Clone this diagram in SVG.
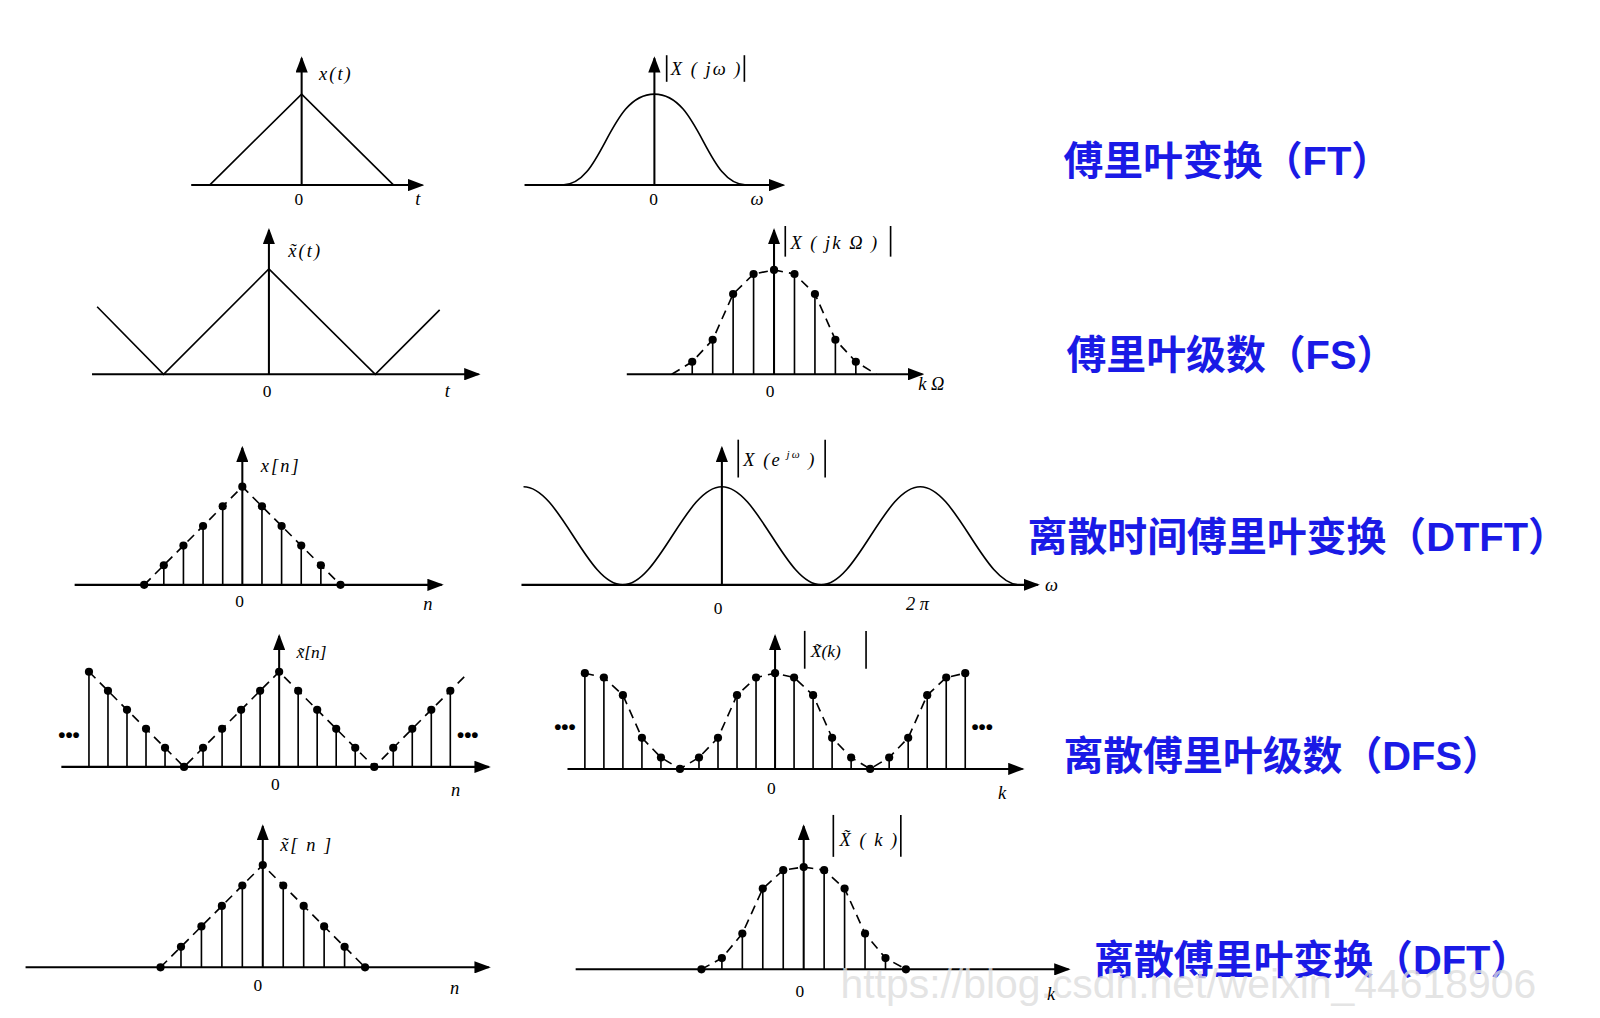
<svg xmlns="http://www.w3.org/2000/svg" width="1600" height="1018" viewBox="0 0 1600 1018">
<style>
.ax{stroke:#000;stroke-width:2;fill:none;marker-end:url(#ar)}
.ln{stroke:#000;stroke-width:1.6;fill:none}
.st{stroke:#000;stroke-width:1.6}
.ds{stroke:#000;stroke-width:1.6;fill:none;stroke-dasharray:9,6}
.dt{fill:#000}
.lb{font-family:"Liberation Serif",serif;font-style:italic;font-size:18px;fill:#000}
.nm{font-family:"Liberation Serif",serif;font-size:17px;fill:#000}
.tt{font-family:"Liberation Sans","Noto Sans CJK SC",sans-serif;font-weight:bold;font-size:39px;fill:#1a1ae6}
.el{font-family:"Liberation Sans",sans-serif;font-weight:bold;font-size:20px;fill:#000}
</style>
<defs>
<marker id="ar" markerUnits="userSpaceOnUse" markerWidth="16" markerHeight="12" refX="14" refY="6" orient="auto"><path d="M0,0 L16,6 L0,12 z" fill="#000"/></marker>
</defs>
<rect width="1600" height="1018" fill="#fff"/>
<g transform="scale(1.0225)">
<g id="ft-time">
<line class="ax" x1="187" y1="181" x2="413" y2="181"/><line class="ax" x1="295" y1="181" x2="295" y2="57"/>
<polyline class="ln" points="205,181 295,92 385,181"/>
<text class="lb" x="312" y="78" letter-spacing="2">x(t)</text><text class="nm" x="288" y="200">0</text><text class="lb" x="406" y="200">t</text>
</g>
<g id="ft-freq">
<line class="ax" x1="513" y1="181" x2="766" y2="181"/><line class="ax" x1="640" y1="181" x2="640" y2="57"/>
<path class="ln" d="M550,181 C590,181 595,92 640,92 C685,92 690,181 730,181"/>
<line class="st" x1="652" y1="54" x2="652" y2="80"/><line class="st" x1="728" y1="54" x2="728" y2="80"/>
<text class="lb" x="656" y="73" letter-spacing="2">X ( jω )</text><text class="nm" x="635" y="200">0</text><text class="lb" x="734" y="200">ω</text>
</g>
<g id="fs-time">
<line class="ax" x1="90" y1="366" x2="468" y2="366"/><line class="ax" x1="263" y1="366" x2="263" y2="225"/>
<polyline class="ln" points="95,300 160,366 263,263 367,366 430,303"/>
<text class="lb" x="282" y="251" letter-spacing="2">x̃(t)</text><text class="nm" x="257" y="388">0</text><text class="lb" x="435" y="388">t</text>
</g>
<g id="fs-freq">
<line class="ax" x1="613" y1="366" x2="902" y2="366"/><line class="ax" x1="757" y1="366" x2="757" y2="225"/>
<polyline class="ds" points="657,366 677,353.8 697,332.3 717,287.5 737,268 757,264 777,268 797,287.5 817,332.3 837,353.8 857,366"/>
<g class="st"><line x1="677" y1="366" x2="677" y2="353.8"/><line x1="697" y1="366" x2="697" y2="332.3"/><line x1="717" y1="366" x2="717" y2="287.5"/><line x1="737" y1="366" x2="737" y2="268"/><line x1="777" y1="366" x2="777" y2="268"/><line x1="797" y1="366" x2="797" y2="287.5"/><line x1="817" y1="366" x2="817" y2="332.3"/><line x1="837" y1="366" x2="837" y2="353.8"/></g>
<g class="dt"><circle cx="677" cy="353.8" r="4"/><circle cx="697" cy="332.3" r="4"/><circle cx="717" cy="287.5" r="4"/><circle cx="737" cy="268" r="4"/><circle cx="757" cy="264" r="4"/><circle cx="777" cy="268" r="4"/><circle cx="797" cy="287.5" r="4"/><circle cx="817" cy="332.3" r="4"/><circle cx="837" cy="353.8" r="4"/></g>
<line class="st" x1="768" y1="221" x2="768" y2="251"/><line class="st" x1="871" y1="221" x2="871" y2="251"/>
<text class="lb" x="773" y="244" letter-spacing="2">X ( jk Ω )</text><text class="nm" x="749" y="388">0</text><text class="lb" x="898" y="381">k Ω</text>
</g>
<g id="dtft-time">
<line class="ax" x1="73" y1="572" x2="432" y2="572"/><line class="ax" x1="237" y1="572" x2="237" y2="438"/>
<polyline class="ds" points="141,572 237,476 333,572"/>
<g class="st"><line x1="160.2" y1="572" x2="160.2" y2="552.8"/><line x1="179.4" y1="572" x2="179.4" y2="533.6"/><line x1="198.6" y1="572" x2="198.6" y2="514.4"/><line x1="217.8" y1="572" x2="217.8" y2="495.2"/><line x1="256.2" y1="572" x2="256.2" y2="495.2"/><line x1="275.4" y1="572" x2="275.4" y2="514.4"/><line x1="294.6" y1="572" x2="294.6" y2="533.6"/><line x1="313.8" y1="572" x2="313.8" y2="552.8"/></g>
<g class="dt"><circle cx="141" cy="572" r="4"/><circle cx="160.2" cy="552.8" r="4"/><circle cx="179.4" cy="533.6" r="4"/><circle cx="198.6" cy="514.4" r="4"/><circle cx="217.8" cy="495.2" r="4"/><circle cx="237" cy="476" r="4"/><circle cx="256.2" cy="495.2" r="4"/><circle cx="275.4" cy="514.4" r="4"/><circle cx="294.6" cy="533.6" r="4"/><circle cx="313.8" cy="552.8" r="4"/><circle cx="333" cy="572" r="4"/></g>
<text class="lb" x="255" y="462" letter-spacing="2">x[n]</text><text class="nm" x="230" y="594">0</text><text class="lb" x="414" y="597">n</text>
</g>
<g id="dtft-freq">
<line class="ax" x1="510" y1="572" x2="1015" y2="572"/><line class="ax" x1="706" y1="572" x2="706" y2="438"/>
<path class="ln" d="M512,476 C547.3,476 573.7,572 609,572 C644.3,572 670.7,476 706,476 C741.3,476 767.7,572 803,572 C838.3,572 864.7,476 900,476 C935.3,476 961.7,572 997,572"/>
<line class="st" x1="722" y1="430" x2="722" y2="467"/><line class="st" x1="807" y1="430" x2="807" y2="467"/>
<text class="lb" x="727" y="456" letter-spacing="2">X (<tspan>e</tspan><tspan font-size="11" dy="-8"> jω</tspan><tspan dy="8"> )</tspan></text>
<text class="nm" x="698" y="600">0</text><text class="lb" x="886" y="597">2 π</text><text class="lb" x="1022" y="578">ω</text>
</g>
<g id="dfs-time">
<line class="ax" x1="60" y1="750" x2="478" y2="750"/><line class="ax" x1="273" y1="750" x2="273" y2="622"/>
<polyline class="ds" points="87,657 180,750 273,657 366,750 458,658"/>
<g class="st"><line x1="87" y1="750" x2="87" y2="657"/><line x1="105.6" y1="750" x2="105.6" y2="675.6"/><line x1="124.2" y1="750" x2="124.2" y2="694.2"/><line x1="142.8" y1="750" x2="142.8" y2="712.8"/><line x1="161.4" y1="750" x2="161.4" y2="731.4"/><line x1="198.6" y1="750" x2="198.6" y2="731.4"/><line x1="217.2" y1="750" x2="217.2" y2="712.8"/><line x1="235.8" y1="750" x2="235.8" y2="694.2"/><line x1="254.4" y1="750" x2="254.4" y2="675.6"/><line x1="291.6" y1="750" x2="291.6" y2="675.6"/><line x1="310.2" y1="750" x2="310.2" y2="694.2"/><line x1="328.8" y1="750" x2="328.8" y2="712.8"/><line x1="347.4" y1="750" x2="347.4" y2="731.4"/><line x1="384.6" y1="750" x2="384.6" y2="731.4"/><line x1="403.2" y1="750" x2="403.2" y2="712.8"/><line x1="421.8" y1="750" x2="421.8" y2="694.2"/><line x1="440.4" y1="750" x2="440.4" y2="675.6"/></g>
<g class="dt"><circle cx="87" cy="657" r="4"/><circle cx="105.6" cy="675.6" r="4"/><circle cx="124.2" cy="694.2" r="4"/><circle cx="142.8" cy="712.8" r="4"/><circle cx="161.4" cy="731.4" r="4"/><circle cx="180" cy="750" r="4"/><circle cx="198.6" cy="731.4" r="4"/><circle cx="217.2" cy="712.8" r="4"/><circle cx="235.8" cy="694.2" r="4"/><circle cx="254.4" cy="675.6" r="4"/><circle cx="273" cy="657" r="4"/><circle cx="291.6" cy="675.6" r="4"/><circle cx="310.2" cy="694.2" r="4"/><circle cx="328.8" cy="712.8" r="4"/><circle cx="347.4" cy="731.4" r="4"/><circle cx="366" cy="750" r="4"/><circle cx="384.6" cy="731.4" r="4"/><circle cx="403.2" cy="712.8" r="4"/><circle cx="421.8" cy="694.2" r="4"/><circle cx="440.4" cy="675.6" r="4"/></g>
<text class="el" x="57" y="726">•••</text><text class="el" x="447" y="726">•••</text>
<text class="nm" x="290" y="644" font-size="22" font-style="italic">x̃[n]</text><text class="nm" x="265" y="773" font-size="22">0</text><text class="lb" x="441" y="778" font-size="22">n</text>
</g>
<g id="dfs-freq">
<line class="ax" x1="555" y1="752" x2="1000" y2="752"/><line class="ax" x1="758" y1="752" x2="758" y2="622"/>
<polyline class="ds" points="572,658.4 590.6,662.6 609.2,679.9 627.8,721.6 646.4,740.8 665,752 683.6,740.8 702.2,721.6 720.8,679.9 739.4,662.6 758,658.4 776.6,662.6 795.2,679.9 813.8,721.6 832.4,740.8 851,752 869.6,740.8 888.2,721.6 906.8,679.9 925.4,662.6 944,658.4"/>
<g class="st"><line x1="572" y1="752" x2="572" y2="658.4"/><line x1="590.6" y1="752" x2="590.6" y2="662.6"/><line x1="609.2" y1="752" x2="609.2" y2="679.9"/><line x1="627.8" y1="752" x2="627.8" y2="721.6"/><line x1="646.4" y1="752" x2="646.4" y2="740.8"/><line x1="683.6" y1="752" x2="683.6" y2="740.8"/><line x1="702.2" y1="752" x2="702.2" y2="721.6"/><line x1="720.8" y1="752" x2="720.8" y2="679.9"/><line x1="739.4" y1="752" x2="739.4" y2="662.6"/><line x1="776.6" y1="752" x2="776.6" y2="662.6"/><line x1="795.2" y1="752" x2="795.2" y2="679.9"/><line x1="813.8" y1="752" x2="813.8" y2="721.6"/><line x1="832.4" y1="752" x2="832.4" y2="740.8"/><line x1="869.6" y1="752" x2="869.6" y2="740.8"/><line x1="888.2" y1="752" x2="888.2" y2="721.6"/><line x1="906.8" y1="752" x2="906.8" y2="679.9"/><line x1="925.4" y1="752" x2="925.4" y2="662.6"/><line x1="944" y1="752" x2="944" y2="658.4"/></g>
<g class="dt"><circle cx="572" cy="658.4" r="4"/><circle cx="590.6" cy="662.6" r="4"/><circle cx="609.2" cy="679.9" r="4"/><circle cx="627.8" cy="721.6" r="4"/><circle cx="646.4" cy="740.8" r="4"/><circle cx="665" cy="752" r="4"/><circle cx="683.6" cy="740.8" r="4"/><circle cx="702.2" cy="721.6" r="4"/><circle cx="720.8" cy="679.9" r="4"/><circle cx="739.4" cy="662.6" r="4"/><circle cx="758" cy="658.4" r="4"/><circle cx="776.6" cy="662.6" r="4"/><circle cx="795.2" cy="679.9" r="4"/><circle cx="813.8" cy="721.6" r="4"/><circle cx="832.4" cy="740.8" r="4"/><circle cx="851" cy="752" r="4"/><circle cx="869.6" cy="740.8" r="4"/><circle cx="888.2" cy="721.6" r="4"/><circle cx="906.8" cy="679.9" r="4"/><circle cx="925.4" cy="662.6" r="4"/><circle cx="944" cy="658.4" r="4"/></g>
<text class="el" x="542" y="718">•••</text><text class="el" x="950" y="718">•••</text>
<line class="st" x1="787" y1="617" x2="787" y2="654"/><line class="st" x1="847" y1="617" x2="847" y2="654"/>
<text class="nm" x="793" y="643" font-size="22" font-style="italic">X̃(k)</text><text class="nm" x="750" y="777" font-size="22">0</text><text class="lb" x="976" y="781" font-size="22">k</text>
</g>
<g id="dft-time">
<line class="ax" x1="25" y1="946" x2="478" y2="946"/><line class="ax" x1="257" y1="946" x2="257" y2="808"/>
<polyline class="ds" points="157,946 257,846 357,946"/>
<g class="st"><line x1="177" y1="946" x2="177" y2="926"/><line x1="197" y1="946" x2="197" y2="906"/><line x1="217" y1="946" x2="217" y2="886"/><line x1="237" y1="946" x2="237" y2="866"/><line x1="277" y1="946" x2="277" y2="866"/><line x1="297" y1="946" x2="297" y2="886"/><line x1="317" y1="946" x2="317" y2="906"/><line x1="337" y1="946" x2="337" y2="926"/></g>
<g class="dt"><circle cx="157" cy="946" r="4"/><circle cx="177" cy="926" r="4"/><circle cx="197" cy="906" r="4"/><circle cx="217" cy="886" r="4"/><circle cx="237" cy="866" r="4"/><circle cx="257" cy="846" r="4"/><circle cx="277" cy="866" r="4"/><circle cx="297" cy="886" r="4"/><circle cx="317" cy="906" r="4"/><circle cx="337" cy="926" r="4"/><circle cx="357" cy="946" r="4"/></g>
<text class="lb" x="274" y="832" letter-spacing="2">x̃[ n ]</text><text class="nm" x="248" y="969">0</text><text class="lb" x="440" y="972">n</text>
</g>
<g id="dft-freq">
<line class="ax" x1="563" y1="948" x2="1045" y2="948"/><line class="ax" x1="786" y1="948" x2="786" y2="808"/>
<polyline class="ds" points="686,948 706,937 726,913 746,869 766,851 786,848 806,851 826,869 846,913 866,937 886,948"/>
<g class="st"><line x1="706" y1="948" x2="706" y2="937"/><line x1="726" y1="948" x2="726" y2="913"/><line x1="746" y1="948" x2="746" y2="869"/><line x1="766" y1="948" x2="766" y2="851"/><line x1="806" y1="948" x2="806" y2="851"/><line x1="826" y1="948" x2="826" y2="869"/><line x1="846" y1="948" x2="846" y2="913"/><line x1="866" y1="948" x2="866" y2="937"/></g>
<g class="dt"><circle cx="686" cy="948" r="4"/><circle cx="706" cy="937" r="4"/><circle cx="726" cy="913" r="4"/><circle cx="746" cy="869" r="4"/><circle cx="766" cy="851" r="4"/><circle cx="786" cy="848" r="4"/><circle cx="806" cy="851" r="4"/><circle cx="826" cy="869" r="4"/><circle cx="846" cy="913" r="4"/><circle cx="866" cy="937" r="4"/><circle cx="886" cy="948" r="4"/></g>
<line class="st" x1="815" y1="797" x2="815" y2="838"/><line class="st" x1="881" y1="797" x2="881" y2="838"/>
<text class="lb" x="821" y="827" letter-spacing="2">X̃ ( k )</text><text class="nm" x="778" y="975">0</text><text class="lb" x="1024" y="978">k</text>
</g>
<g id="titles">
<text class="tt" x="1040" y="171">傅里叶变换（FT）</text>
<text class="tt" x="1043" y="361">傅里叶级数（FS）</text>
<text class="tt" x="1005" y="539">离散时间傅里叶变换（DTFT）</text>
<text class="tt" x="1040" y="753">离散傅里叶级数（DFS）</text>
<text class="tt" x="1070" y="953">离散傅里叶变换（DFT）</text>
</g>
<text x="822" y="976" font-family="Liberation Sans,sans-serif" font-size="40" fill="#ddd" fill-opacity="0.8">https://blog.csdn.net/weixin_44618906</text>
</g>
</svg>
